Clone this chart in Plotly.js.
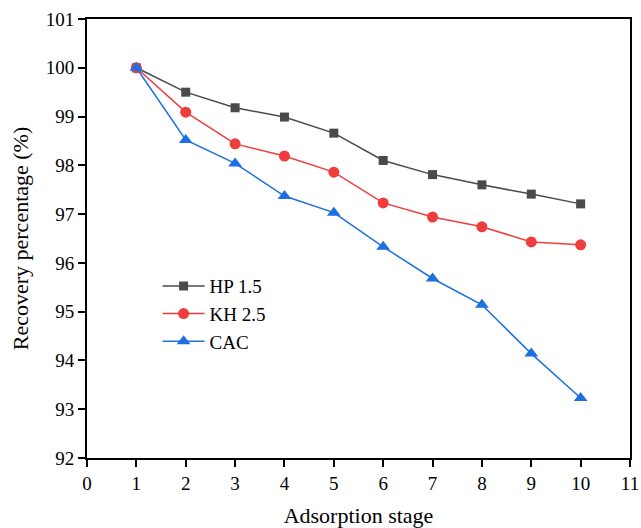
<!DOCTYPE html>
<html><head><meta charset="utf-8">
<script src="https://cdn.plot.ly/plotly-3.0.1.min.js"></script>
<style>html,body{margin:0;padding:0;background:#fff}</style>
</head><body><div id="chart" style="width:641px;height:528px"></div>
<script>
const stages = [1,2,3,4,5,6,7,8,9,10];
const hp15 = [100.0, 99.50, 99.18, 98.99, 98.66, 98.10, 97.81, 97.60, 97.41, 97.21];
const kh25 = [100.0, 99.09, 98.44, 98.19, 97.86, 97.23, 96.94, 96.74, 96.43, 96.37];
const cac  = [100.0, 98.52, 98.04, 97.37, 97.03, 96.33, 95.68, 95.14, 94.14, 93.23];
const names = ['HP 1.5','KH 2.5','CAC'];
const xTicks = [0,1,2,3,4,5,6,7,8,9,10,11];
const yTicks = [92,93,94,95,96,97,98,99,100,101];

const traces = [
  {x: stages, y: hp15, name: names[0], mode:'lines+markers', line:{color:'#4a4a4a', width:1.5}, marker:{symbol:'square', size:9, color:'#4a4a4a'}},
  {x: stages, y: kh25, name: names[1], mode:'lines+markers', line:{color:'#f03c3c', width:1.5}, marker:{symbol:'circle', size:11, color:'#f03c3c'}},
  {x: stages, y: cac, name: names[2], mode:'lines+markers', line:{color:'#1e6fe0', width:1.5}, marker:{symbol:'triangle-up', size:12, color:'#1e6fe0'}}
];
const font = {family:'"Liberation Serif", "Times New Roman", serif', color:'#000'};
const layout = {
  width:641, height:528,
  margin:{l:87, r:11, t:19, b:70},
  paper_bgcolor:'#fff', plot_bgcolor:'#fff',
  font: Object.assign({size:16}, font),
  showlegend:true,
  legend:{x:0.13, y:0.435, xanchor:'left', yanchor:'top', bgcolor:'rgba(0,0,0,0)', font:Object.assign({size:19}, font), tracegroupgap:0, itemwidth:42},
  xaxis:{range:[0,11], tickvals:xTicks, ticktext:xTicks.map(String), showgrid:false, zeroline:false,
    showline:true, linecolor:'#000', linewidth:2, mirror:true, ticks:'outside', ticklen:7, tickwidth:2, tickcolor:'#000',
    tickfont:Object.assign({size:19}, font),
    title:{text:'Adsorption stage', font:Object.assign({size:22}, font), standoff:17}},
  yaxis:{range:[92,101], tickvals:yTicks, ticktext:yTicks.map(String), showgrid:false, zeroline:false,
    showline:true, linecolor:'#000', linewidth:2, mirror:true, ticks:'outside', ticklen:7, tickwidth:2, tickcolor:'#000',
    tickfont:Object.assign({size:19}, font),
    title:{text:'Recovery percentage (%)', font:Object.assign({size:22}, font), standoff:11}}
};
Plotly.newPlot('chart', traces, layout, {displayModeBar:false, staticPlot:true});
</script></body></html>
